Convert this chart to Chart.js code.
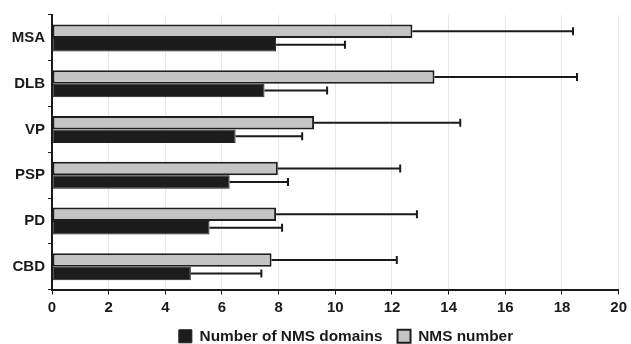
<!DOCTYPE html>
<html>
<head>
<meta charset="utf-8">
<script src="https://cdn.jsdelivr.net/npm/chart.js@4/dist/chart.umd.min.js"></script>
<style>
    html, body { margin: 0; padding: 0; background: #fff; }
    #wrap { width: 631px; height: 344px; }
</style>
</head>
<body>
<div id="wrap"><canvas id="nmsChart" width="631" height="344"></canvas></div>
<script>
const categories = ['MSA', 'DLB', 'VP', 'PSP', 'PD', 'CBD'];
const nmsNumber = [12.72, 13.5, 9.25, 7.97, 7.91, 7.75];
const nmsNumberErr = [5.67, 5.03, 5.16, 4.32, 4.97, 4.42];
const nmsDomains = [7.91, 7.5, 6.48, 6.27, 5.56, 4.9];
const nmsDomainsErr = [2.43, 2.21, 2.35, 2.06, 2.56, 2.49];
const xTicks = [0, 2, 4, 6, 8, 10, 12, 14, 16, 18, 20];

// one-sided error bars with an end cap
const errorBars = {
    id: 'errorBars',
    afterDatasetsDraw(chart) {
        const ctx = chart.ctx;
        const xs = chart.scales.x;
        ctx.save();
        ctx.strokeStyle = '#1a1a1a';
        ctx.lineWidth = 2;
        chart.data.datasets.forEach((ds, i) => {
            const meta = chart.getDatasetMeta(i);
            meta.data.forEach((bar, j) => {
                const x0 = xs.getPixelForValue(ds.data[j]);
                const x1 = xs.getPixelForValue(ds.data[j] + ds.errors[j]);
                const y = bar.y;
                ctx.beginPath();
                ctx.moveTo(x0, y);
                ctx.lineTo(x1, y);
                ctx.moveTo(x1, y - 4);
                ctx.lineTo(x1, y + 4);
                ctx.stroke();
            });
        });
        ctx.restore();
    }
};

// legend sits a bit right of the canvas centre in the original
const legendShift = {
    id: 'legendShift',
    afterLayout(chart) {
        if (!chart.legend)
            return;
        chart.legend.left += 36;
        chart.legend.right += 36;
    }
};

new Chart(document.getElementById('nmsChart'), {
    type: 'bar',
    data: {
        labels: categories,
        datasets: [
            {
                label: 'NMS number',
                data: nmsNumber,
                errors: nmsNumberErr,
                backgroundColor: '#c4c4c4',
                borderColor: '#1e1e1e',
                borderWidth: 2,
                borderSkipped: false
            },
            {
                label: 'Number of NMS domains',
                data: nmsDomains,
                errors: nmsDomainsErr,
                backgroundColor: '#1c1c1c',
                borderColor: '#1c1c1c',
                borderWidth: 1,
                borderSkipped: false
            }
        ]
    },
    options: {
        indexAxis: 'y',
        responsive: false,
        animation: false,
        barPercentage: 1,
        categoryPercentage: 0.59,
        layout: { padding: { top: 15, right: 11, left: 0, bottom: -10 } },
        scales: {
            x: {
                min: 0,
                max: 20,
                afterBuildTicks: (scale) => { scale.ticks = xTicks.map(v => ({ value: v })); },
                afterFit: (scale) => { scale.height = 24; },
                grid: {
                    color: '#e8e8e8',
                    tickColor: '#1a1a1a',
                    tickLength: 5,
                    lineWidth: 1
                },
                border: { color: '#1a1a1a', width: 2 },
                ticks: {
                    color: '#1a1a1a',
                    padding: 4,
                    font: { family: 'Liberation Sans', size: 15, weight: 'bold' }
                }
            },
            y: {
                afterFit: (scale) => { scale.width = 52; },
                grid: {
                    offset: true,
                    drawOnChartArea: false,
                    tickColor: '#1a1a1a',
                    tickLength: 4
                },
                border: { color: '#1a1a1a', width: 2 },
                ticks: {
                    color: '#1a1a1a',
                    padding: 3,
                    font: { family: 'Liberation Sans', size: 15, weight: 'bold' }
                }
            }
        },
        plugins: {
            tooltip: { enabled: false },
            legend: {
                position: 'bottom',
                reverse: true,
                labels: {
                    boxWidth: 13,
                    boxHeight: 13,
                    padding: 15,
                    color: '#1a1a1a',
                    font: { family: 'Liberation Sans', size: 15.4, weight: 'bold' }
                }
            }
        }
    },
    plugins: [errorBars, legendShift]
});
</script>
</body>
</html>
